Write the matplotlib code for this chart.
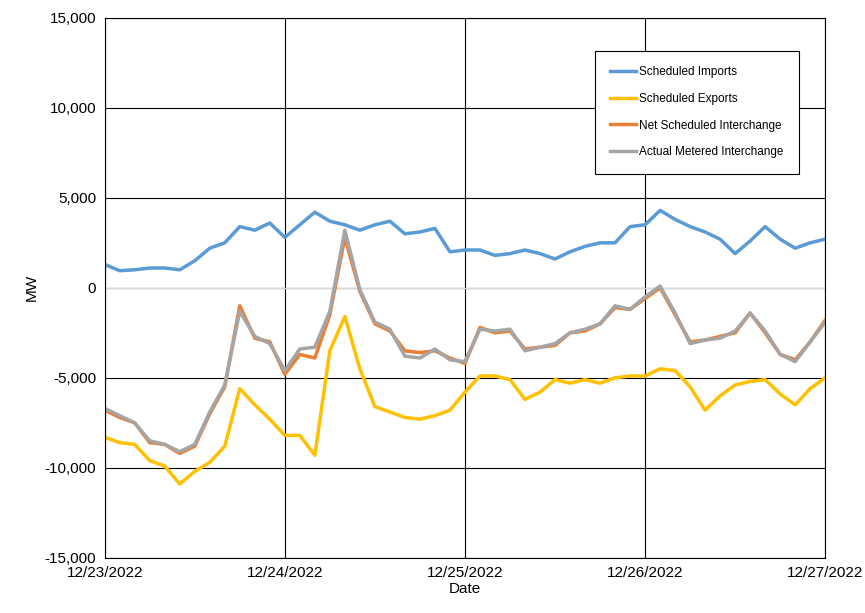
import matplotlib.pyplot as plt
import matplotlib.ticker as mticker
import numpy as np

plt.rcParams['font.family'] = ['Liberation Sans', 'DejaVu Sans']

# values every 2 hours from 12/23/2022 00:00 to 12/27/2022 00:00
hours = np.arange(0, 97, 2)
imports = [1300, 950, 1000, 1100, 1100, 1000, 1500, 2200, 2500, 3400, 3200, 3600, 2800,
           3500, 4200, 3700, 3500, 3200, 3500, 3700, 3000, 3100, 3300, 2000, 2100, 2100,
           1800, 1900, 2100, 1900, 1600, 2000, 2300, 2500, 2500, 3400, 3500, 4300, 3800,
           3400, 3100, 2700, 1900, 2600, 3400, 2700, 2200, 2500, 2700]
exports = [-8300, -8600, -8700, -9600, -9900, -10900, -10200, -9700, -8800, -5600, -6500,
           -7300, -8200, -8200, -9300, -3500, -1600, -4500, -6600, -6900, -7200, -7300,
           -7100, -6800, -5800, -4900, -4900, -5100, -6200, -5800, -5100, -5300, -5100,
           -5300, -5000, -4900, -4900, -4500, -4600, -5500, -6800, -6000, -5400, -5200,
           -5100, -5900, -6500, -5600, -5000]
net = [-6800, -7200, -7500, -8600, -8700, -9200, -8800, -7000, -5500, -1000, -2800, -3000,
       -4800, -3700, -3900, -1500, 2800, -200, -2000, -2400, -3500, -3600, -3500, -3900,
       -4200, -2200, -2500, -2400, -3400, -3300, -3200, -2500, -2400, -2000, -1100, -1200,
       -600, 0, -1500, -3000, -2900, -2700, -2500, -1400, -2500, -3700, -4000, -3000, -1800]
actual = [-6700, -7100, -7500, -8500, -8700, -9100, -8700, -6900, -5400, -1300, -2700,
          -3100, -4600, -3400, -3300, -1300, 3200, -100, -1900, -2300, -3800, -3900, -3400,
          -4000, -4100, -2300, -2400, -2300, -3500, -3300, -3100, -2500, -2300, -2000, -1000,
          -1200, -500, 100, -1400, -3100, -2900, -2800, -2400, -1400, -2400, -3700, -4100,
          -3000, -1900]
day_labels = ["12/23/2022", "12/24/2022", "12/25/2022", "12/26/2022", "12/27/2022"]

fig, ax = plt.subplots(figsize=(8.65, 6.13), dpi=100)
fig.subplots_adjust(left=0.121, right=0.954, top=0.971, bottom=0.09)

ax.plot(hours, imports, color="#5b9bd5", lw=2.5, label="Scheduled Imports")
ax.plot(hours, exports, color="#ffc000", lw=2.5, label="Scheduled Exports")
ax.plot(hours, net, color="#ed7d31", lw=2.5, label="Net Scheduled Interchange")
ax.plot(hours, actual, color="#a5a5a5", lw=2.5, label="Actual Metered Interchange")

ax.set_xlim(0, 96)
ax.set_ylim(-15000, 15000)
ax.set_xticks(np.arange(0, 97, 24))
ax.set_xticklabels(day_labels)
ax.set_yticks(np.arange(-15000, 15001, 5000))
ax.yaxis.set_major_formatter(mticker.FuncFormatter(lambda v, p: f"{int(v):,}"))
ax.grid(True, color="black", lw=0.8)
ax.set_axisbelow(True)
ax.axhline(0, color="#d9d9d9", lw=1, zorder=1)
ax.tick_params(length=0, labelsize=11, pad=6)
for s in ax.spines.values():
    s.set_color("black")
ax.set_xlabel("Date", fontsize=11, labelpad=1)
ax.set_ylabel("MW", fontsize=11)

leg = ax.legend(loc="upper right", bbox_to_anchor=(0.972, 0.95), fontsize=8.5, fancybox=False,
                edgecolor="black", framealpha=1, borderpad=1.3, labelspacing=1.25,
                handlelength=2.2, handletextpad=0.3)
leg.get_frame().set_linewidth(0.8)

fig.savefig("out.png")
